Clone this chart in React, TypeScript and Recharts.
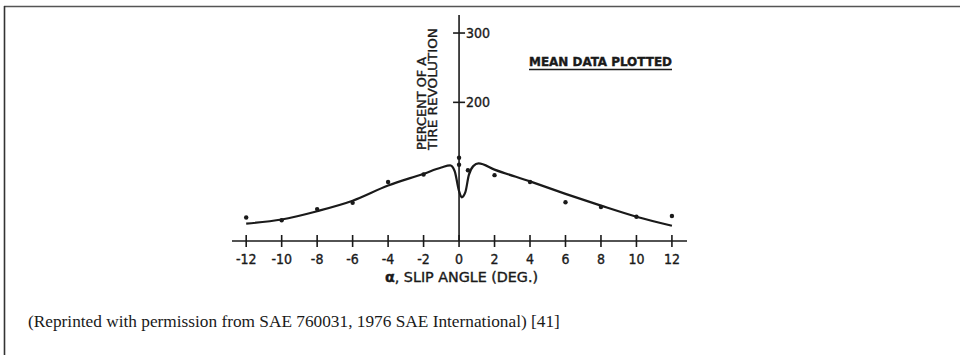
import { ComposedChart, Line, Scatter, XAxis, YAxis, ReferenceLine, ReferenceDot } from 'recharts'

// faired curve through the mean data (slip angle in deg, percent of a tire revolution)
const curveAngle = [-12, -10, -8, -6, -4, -2, -1, -0.5, -0.25, 0, 0.15, 0.35, 0.55, 0.8, 1.1, 2, 4, 6, 8, 10, 12]
const curvePercent = [25, 31, 43, 58, 80, 97, 106, 109, 101, 72, 63, 70, 95, 108, 112, 103, 86, 68, 51, 35, 22]

// plotted mean data points
const dotAngle = [-12, -10, -8, -6, -4, -2, 0, 0, 0.5, 2, 4, 6, 8, 10, 12]
const dotPercent = [34, 30, 46, 55, 85, 96, 120, 110, 102, 95, 85, 56, 49, 35, 36]

const xTicks = [-12, -10, -8, -6, -4, -2, 0, 2, 4, 6, 8, 10, 12]
const yTicks = [200, 300]

const curveData = curveAngle.map((angle, i) => ({ angle, pct: curvePercent[i] }))
const dotData = dotAngle.map((angle, i) => ({ angle, pct: dotPercent[i] }))

const INK = '#1a1a1a'
const LETTER = '"Liberation Sans Narrow", "DejaVu Sans Condensed", "Liberation Sans", sans-serif'

function XTick({ x, y, payload }: any) {
  return (
    <g>
      <line x1={x} x2={x} y1={y - 6} y2={y + 6} stroke={INK} strokeWidth={1.6} />
      <text
        x={x}
        y={y + 23}
        textAnchor="middle"
        fontSize={14}
        fontFamily={LETTER}
        fill={INK}
        stroke={INK}
        strokeWidth={0.35}
      >
        {payload.value}
      </text>
    </g>
  )
}

function YTick({ cx, cy, value }: any) {
  return (
    <g>
      <line x1={cx - 6} x2={cx + 6} y1={cy} y2={cy} stroke={INK} strokeWidth={1.6} />
      <text x={cx + 7} y={cy + 5} fontSize={14} fontFamily={LETTER} fill={INK} stroke={INK} strokeWidth={0.35}>
        {value}
      </text>
    </g>
  )
}

export default function App() {
  return (
    <div style={{ position: 'absolute', left: 0, top: 0, width: 960, height: 355, background: '#fff' }}>
      <ComposedChart
        width={960}
        height={355}
        margin={{ top: 15, right: 273, bottom: 74, left: 232 }}
        style={{ position: 'absolute', left: 0, top: 0 }}
      >
        <XAxis
          dataKey="angle"
          type="number"
          domain={[-12.8, 12.85]}
          ticks={xTicks}
          interval={0}
          height={40}
          tickSize={0}
          tickMargin={0}
          tickLine={false}
          axisLine={{ stroke: INK, strokeWidth: 1.6 }}
          tick={<XTick />}
          allowDataOverflow
        />
        <YAxis dataKey="pct" type="number" domain={[0, 326]} hide />
        <ReferenceLine x={0} stroke={INK} strokeWidth={1.6} />
        {yTicks.map((v) => (
          <ReferenceDot key={v} x={0} y={v} r={0} shape={(p: any) => <YTick {...p} value={v} />} />
        ))}
        <Line
          data={curveData}
          dataKey="pct"
          type="monotone"
          stroke={INK}
          strokeWidth={2.2}
          dot={false}
          activeDot={false}
          isAnimationActive={false}
        />
        <Scatter
          data={dotData}
          dataKey="pct"
          fill={INK}
          shape={(p: any) => <circle cx={p.cx} cy={p.cy} r={2.2} fill={INK} />}
          isAnimationActive={false}
        />
      </ComposedChart>

      <svg width={960} height={355} style={{ position: 'absolute', left: 0, top: 0, pointerEvents: 'none' }}>
        <line x1={4} x2={960} y1={6.5} y2={6.5} stroke="#555" strokeWidth={1.6} />
        <line x1={4.5} x2={4.5} y1={6} y2={355} stroke="#333" strokeWidth={1.6} />

        <g fontFamily={LETTER} fill={INK} stroke={INK} strokeWidth={0.35} fontSize={13}>
          <text transform="translate(426,150) rotate(-90)" textLength={93} lengthAdjust="spacingAndGlyphs">
            PERCENT OF A
          </text>
          <text transform="translate(437,150) rotate(-90)" textLength={122} lengthAdjust="spacingAndGlyphs">
            TIRE REVOLUTION
          </text>
          <text x={529} y={66} fontSize={12} fontWeight="bold" textLength={143} lengthAdjust="spacingAndGlyphs">
            MEAN DATA PLOTTED
          </text>
          <text x={385} y={282} fontSize={14} textLength={153} lengthAdjust="spacingAndGlyphs">
            <tspan fontWeight="bold">α</tspan>, SLIP ANGLE (DEG.)
          </text>
        </g>
        <line x1={529} x2={672} y1={69.5} y2={69.5} stroke={INK} strokeWidth={1.4} />

        <text x={28} y={327} fontFamily='"Liberation Serif", "Times New Roman", serif' fontSize={17.3} fill={INK}>
          (Reprinted with permission from SAE 760031, 1976 SAE International) [41]
        </text>
      </svg>
    </div>
  )
}
